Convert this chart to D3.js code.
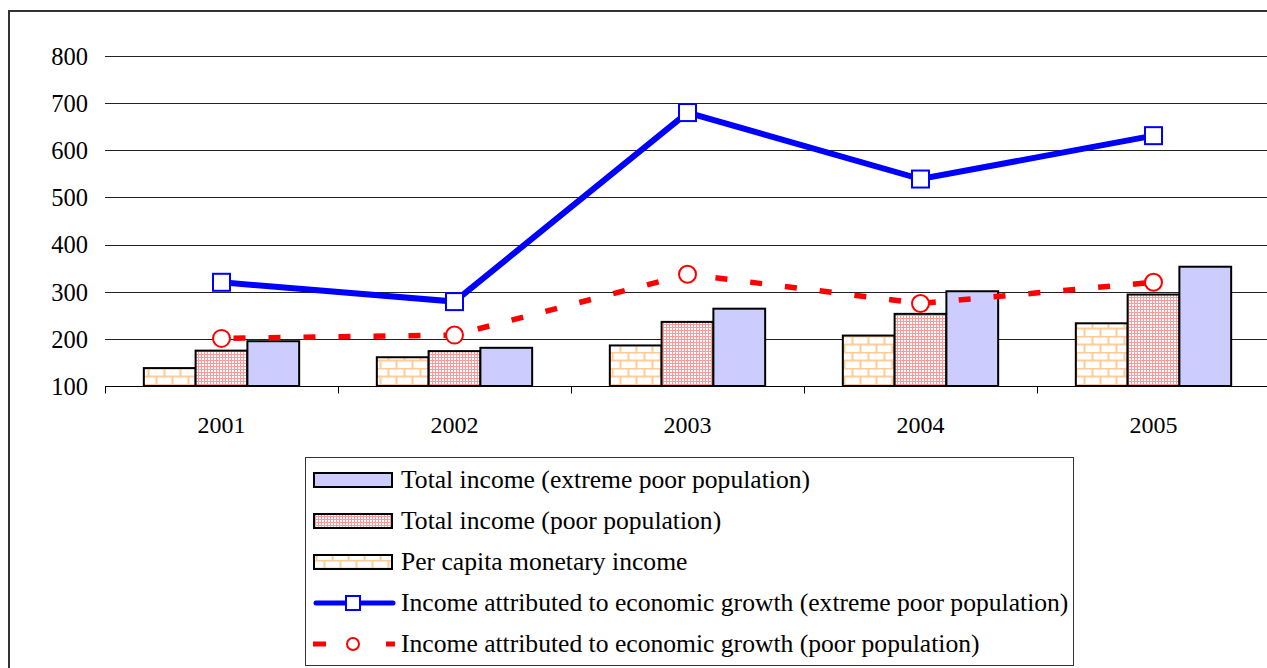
<html>
<head>
  <title>Income of poor population</title>
  <script src="https://d3js.org/d3.v7.min.js"></script>
  <style>
    body { margin: 0; background: #fff; }
  </style>
</head>
<body>
  <div id="chart"></div>
  <script>

    var years = ["2001", "2002", "2003", "2004", "2005"];
    var yTicks = [100, 200, 300, 400, 500, 600, 700, 800];

    // bars
    var perCapita = [138, 161, 186, 207, 233];
    var totalPoor = [175, 174, 236, 253, 294];
    var totalExtreme = [195, 181, 264, 301, 353];

    // lines
    var growthExtreme = [320, 279, 680, 539, 631];
    var growthPoor = [201, 208, 337, 275, 320];

    var legendLabels = [
      "Total income (extreme poor population)",
      "Total income (poor population)",
      "Per capita monetary income",
      "Income attributed to economic growth (extreme poor population)",
      "Income attributed to economic growth (poor population)"
    ];

    var serif = "'Liberation Serif', 'Times New Roman', Times, serif";

    var svg = d3.select("#chart").append("svg")
      .attr("width", 1267).attr("height", 668)
      .style("font-family", serif);

    var defs = svg.append("defs");

    // brick pattern for per capita income
    var brick = defs.append("pattern").attr("id", "brick")
      .attr("patternUnits", "userSpaceOnUse")
      .attr("width", 16).attr("height", 16);
    brick.append("rect").attr("width", 16).attr("height", 16).attr("fill", "#fff");
    brick.append("path")
      .attr("d", "M0,0.5H16M0,8.5H16M4.5,0V8M12.5,8V16")
      .attr("stroke", "#FFCC99").attr("stroke-width", 2).attr("fill", "none");

    // fine grid for poor population
    var grid = defs.append("pattern").attr("id", "grid")
      .attr("patternUnits", "userSpaceOnUse")
      .attr("width", 3).attr("height", 3);
    grid.append("rect").attr("width", 3).attr("height", 3).attr("fill", "#fff");
    grid.append("path")
      .attr("d", "M0,0.5H3M0.5,0V3")
      .attr("stroke", "#FF9999").attr("stroke-width", 1).attr("fill", "none");

    // outer frame
    svg.append("rect")
      .attr("x", 9).attr("y", 11).attr("width", 1300).attr("height", 700)
      .attr("fill", "none").attr("stroke", "#333").attr("stroke-width", 2);

    var x = d3.scaleBand().domain(years).range([105, 1270]).paddingInner(0).paddingOuter(0);
    var y = d3.scaleLinear().domain([100, 800]).range([386, 56]);

    var barW = x.bandwidth() / 4.5;
    var series = [
      { values: perCapita, fill: "url(#brick)" },
      { values: totalPoor, fill: "url(#grid)" },
      { values: totalExtreme, fill: "#CCCCFF" }
    ];

    // gridlines
    svg.append("g").selectAll("line").data(yTicks.slice(1)).enter().append("line")
      .attr("x1", 105).attr("x2", 1270)
      .attr("y1", function(d){ return Math.round(y(d)) + 0.5; })
      .attr("y2", function(d){ return Math.round(y(d)) + 0.5; })
      .attr("stroke", "#222").attr("stroke-width", 1);

    // y labels
    svg.append("g").selectAll("text").data(yTicks).enter().append("text")
      .attr("x", 88).attr("y", function(d){ return y(d); })
      .attr("dy", "0.36em")
      .attr("text-anchor", "end")
      .style("font-family", serif)
      .style("font-size", "24.5px")
      .text(function(d){ return d; });

    // bars
    series.forEach(function(s, i){
      svg.append("g").selectAll("rect").data(s.values).enter().append("rect")
        .attr("x", function(d, j){ return x(years[j]) + x.bandwidth()/2 - 1.5*barW + i*barW; })
        .attr("y", function(d){ return y(d); })
        .attr("width", barW)
        .attr("height", function(d){ return y(100) - y(d); })
        .attr("fill", s.fill)
        .attr("stroke", "#000").attr("stroke-width", 2);
    });

    // x axis
    var xAxis = svg.append("g").attr("transform", "translate(0," + (Math.round(y(100)) + 0.5) + ")");
    xAxis.append("line").attr("x1", 105).attr("x2", 1270).attr("stroke", "#000");
    xAxis.selectAll("line.tick").data(years.concat(["end"])).enter().append("line")
      .attr("class", "tick")
      .attr("x1", function(d, i){ return Math.round(105 + i*x.bandwidth()) + 0.5; })
      .attr("x2", function(d, i){ return Math.round(105 + i*x.bandwidth()) + 0.5; })
      .attr("y1", 0).attr("y2", 7).attr("stroke", "#000");
    xAxis.selectAll("text").data(years).enter().append("text")
      .attr("x", function(d){ return x(d) + x.bandwidth()/2; })
      .attr("y", 46)
      .attr("text-anchor", "middle")
      .style("font-family", serif)
      .style("font-size", "24px")
      .text(function(d){ return d; });

    var line = d3.line()
      .x(function(d, i){ return x(years[i]) + x.bandwidth()/2; })
      .y(function(d){ return y(d); });

    // poor population growth line
    svg.append("path").datum(growthPoor)
      .attr("d", line).attr("fill", "none")
      .attr("stroke", "#FF0000").attr("stroke-width", 5.5)
      .attr("stroke-dasharray", "12,23").attr("stroke-dashoffset", -12);
    svg.append("g").selectAll("circle").data(growthPoor).enter().append("circle")
      .attr("cx", function(d, i){ return x(years[i]) + x.bandwidth()/2; })
      .attr("cy", function(d){ return y(d); })
      .attr("r", 8.5)
      .attr("fill", "#fff").attr("stroke", "#FF0000").attr("stroke-width", 2);

    // extreme poor growth line
    svg.append("path").datum(growthExtreme)
      .attr("d", line).attr("fill", "none")
      .attr("stroke", "#0000FF").attr("stroke-width", 6);
    svg.append("g").selectAll("rect").data(growthExtreme).enter().append("rect")
      .attr("x", function(d, i){ return x(years[i]) + x.bandwidth()/2 - 8.5; })
      .attr("y", function(d){ return y(d) - 8.5; })
      .attr("width", 17).attr("height", 17)
      .attr("fill", "#fff").attr("stroke", "#0000FF").attr("stroke-width", 2);

    // legend
    var legend = svg.append("g");
    legend.append("rect")
      .attr("x", 305.5).attr("y", 457.5).attr("width", 768).attr("height", 208)
      .attr("fill", "#fff").attr("stroke", "#333").attr("stroke-width", 1);

    var rowY = function(i){ return 480 + i*41; };
    var swFill = ["#CCCCFF", "url(#grid)", "url(#brick)"];
    swFill.forEach(function(f, i){
      legend.append("rect")
        .attr("x", 314).attr("y", rowY(i) - 7).attr("width", 78).attr("height", 14)
        .attr("fill", f).attr("stroke", "#000").attr("stroke-width", 2);
    });

    // blue line sample
    legend.append("line")
      .attr("x1", 316).attr("x2", 393).attr("y1", rowY(3)).attr("y2", rowY(3))
      .attr("stroke", "#0000FF").attr("stroke-width", 5).attr("stroke-linecap", "round");
    legend.append("rect")
      .attr("x", 346).attr("y", rowY(3) - 7).attr("width", 14).attr("height", 14)
      .attr("fill", "#fff").attr("stroke", "#0000FF").attr("stroke-width", 2);

    // red dashed sample
    legend.append("line")
      .attr("x1", 313).attr("x2", 395).attr("y1", rowY(4)).attr("y2", rowY(4))
      .attr("stroke", "#FF0000").attr("stroke-width", 5)
      .attr("stroke-dasharray", "13,60,9");
    legend.append("circle")
      .attr("cx", 353).attr("cy", rowY(4)).attr("r", 6)
      .attr("fill", "#fff").attr("stroke", "#FF0000").attr("stroke-width", 2);

    legend.selectAll("text").data(legendLabels).enter().append("text")
      .attr("x", 401).attr("y", function(d, i){ return rowY(i) + 8; })
      .style("font-family", serif)
      .style("font-size", "25.6px")
      .text(function(d){ return d; });

  </script>
</body>
</html>
